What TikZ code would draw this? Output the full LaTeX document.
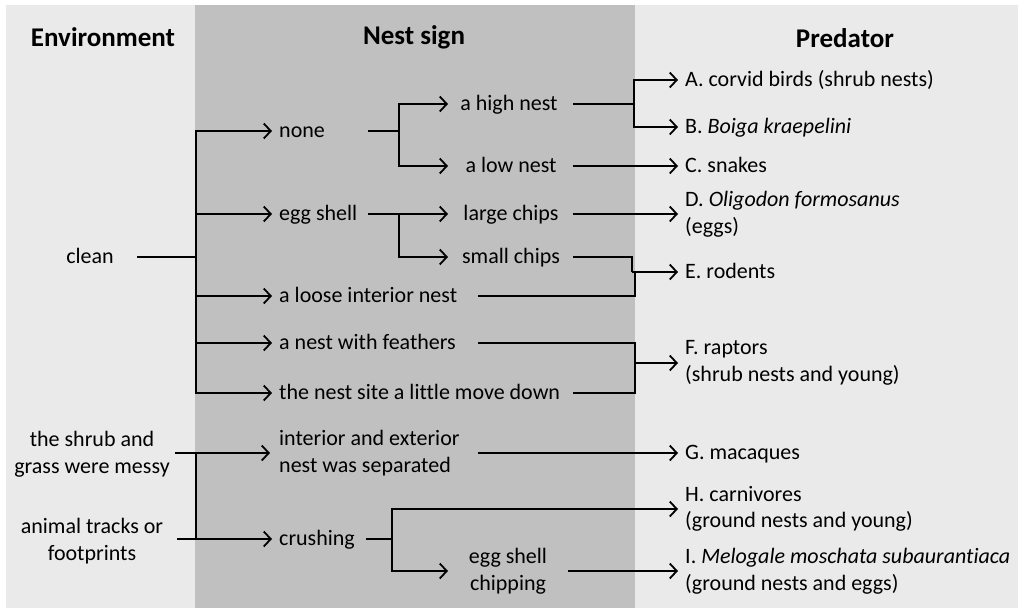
\documentclass[tikz,border=0pt]{standalone}
\usepackage{fontspec}
\setmainfont{Carlito}[Ligatures=NoCommon]
\usetikzlibrary{arrows.meta}
\definecolor{lightbg}{HTML}{EAEAEA}
\definecolor{darkbg}{HTML}{C0C0C0}
\begin{document}
\begin{tikzpicture}[x=1pt,y=-1pt,
  txt/.style={font=\fontsize{22}{26.5}\selectfont, inner sep=0pt, text height=17pt, text depth=4.7pt},
  mtxt/.style={font=\fontsize{22}{26.5}\selectfont, inner sep=0pt},
  hdr/.style={font=\fontsize{27}{32}\selectfont\bfseries, inner sep=0pt},
  ln/.style={line width=1.8pt, draw=black},
  arr/.style={ln, -{Straight Barb[length=7pt,width=15pt]}},
]
\useasboundingbox (0,0) rectangle (1022,608);
\fill[lightbg] (6,5) rectangle (195,608);
\fill[darkbg] (195,5) rectangle (635,608);
\fill[lightbg] (635,5) rectangle (1018,608);

% headers
\node[hdr] (henv) at (103,37) {Environment};
\node[hdr] (hnest) at (414,37) {Nest sign};
\node[hdr] (hpred) at (845,38) {Predator};

% environment
\node[txt] (clean) at (90,257) {clean};
\node[mtxt, align=center] (messy) at (92,454) {the shrub and\\grass were messy};
\node[mtxt, align=center] (tracks) at (92,541) {animal tracks or\\footprints};

% nest sign
\node[txt, anchor=west] (none) at (279,131) {none};
\node[txt, anchor=west] (egg) at (279,214) {egg shell};
\node[txt, anchor=west] (loose) at (279,296) {a loose interior nest};
\node[txt, anchor=west] (feath) at (279,343) {a nest with feathers};
\node[txt, anchor=west] (site) at (279,393) {the nest site a little move down};
\node[mtxt, anchor=west, align=left] (sep) at (279,453) {interior and exterior\\nest was separated};
\node[txt, anchor=west] (crush) at (279,539) {crushing};
\node[txt] (high) at (509,104) {a high nest};
\node[txt] (low) at (511,166) {a low nest};
\node[txt] (large) at (511,214) {large chips};
\node[txt] (small) at (511,257) {small chips};
\node[mtxt, align=center] (chip) at (508,571) {egg shell\\chipping};

% predators
\node[txt, anchor=west] (pA) at (685,80) {A. corvid birds (shrub nests)};
\node[txt, anchor=west] (pB) at (685,127) {B. \textit{Boiga kraepelini}};
\node[txt, anchor=west] (pC) at (685,166) {C. snakes};
\node[mtxt, anchor=west, align=left] (pD) at (685,214) {D. \textit{Oligodon formosanus}\\(eggs)};
\node[txt, anchor=west] (pE) at (685,272) {E. rodents};
\node[mtxt, anchor=west, align=left] (pF) at (685,363) {F. raptors\\(shrub nests and young)};
\node[txt, anchor=west] (pG) at (685,453) {G. macaques};
\node[mtxt, anchor=west, align=left] (pH) at (685,509) {H. carnivores\\(ground nests and young)};
\node[mtxt, anchor=west, align=left] (pI) at (685,571) {I. \textit{Melogale moschata subaurantiaca}\\(ground nests and eggs)};

% junctions and line starts
\coordinate (tipN) at (448,0);
\coordinate (tipP) at (678,0);
\coordinate (cj) at (196,257);
\coordinate (nj) at (399,131);
\coordinate (ej) at (399,214);
\coordinate (hj) at (634,104);
\coordinate (sj) at (632,272);
\coordinate (lj) at (635,272);
\coordinate (fj) at (635,363);
\coordinate (mj) at (196,453);
\coordinate (tj) at (196,539);
\coordinate (cr) at (392,539);
\coordinate (cleanS) at (137,257);
\coordinate (noneS) at (368,131);
\coordinate (eggS) at (368,214);
\coordinate (highS) at (573,104);
\coordinate (lowS) at (573,166);
\coordinate (largeS) at (573,214);
\coordinate (smallS) at (573,257);
\coordinate (looseS) at (478,296);
\coordinate (feathS) at (478,343);
\coordinate (siteS) at (573,393);
\coordinate (sepS) at (478,453);
\coordinate (messyS) at (175,453);
\coordinate (tracksS) at (177,539);
\coordinate (crushS) at (366,539);
\coordinate (chipS) at (568,571);

% connectors
\draw[ln] (cleanS) -- (cj);
\foreach \t in {none,egg,loose,feath,site} \draw[arr] (cj) |- ([xshift=-7pt]\t.west);
\draw[ln] (noneS) -- (nj);
\draw[arr] (nj) |- (high.west -| tipN);
\draw[arr] (nj) |- (low.west -| tipN);
\draw[ln] (highS) -- (hj);
\draw[arr] (hj) |- (pA.west -| tipP);
\draw[arr] (hj) |- (pB.west -| tipP);
\draw[arr] (lowS) -- (pC.west -| tipP);
\draw[ln] (eggS) -- (ej);
\draw[arr] (ej) -- (large.west -| tipN);
\draw[arr] (ej) |- (small.west -| tipN);
\draw[arr] (largeS) -- (pD.west -| tipP);
\draw[ln] (smallS) -| (sj);
\draw[ln] (looseS) -| (lj);
\draw[arr] (sj) -- (pE.west -| tipP);
\draw[ln] (feathS) -| (fj);
\draw[ln] (siteS) -| (fj);
\draw[arr] (fj) -- (pF.west -| tipP);
\draw[arr] (messyS) -- ([xshift=-9pt]sep.west);
\draw[arr] (tracksS) -- ([xshift=-7pt]crush.west);
\draw[ln] (mj) -- (tj);
\draw[arr] (sepS) -- (pG.west -| tipP);
\draw[ln] (crushS) -- (cr);
\draw[arr] (cr) |- (pH.west -| tipP);
\draw[arr] (cr) |- (chip.west -| tipN);
\draw[arr] (chipS) -- (pI.west -| tipP);
\end{tikzpicture}
\end{document}
